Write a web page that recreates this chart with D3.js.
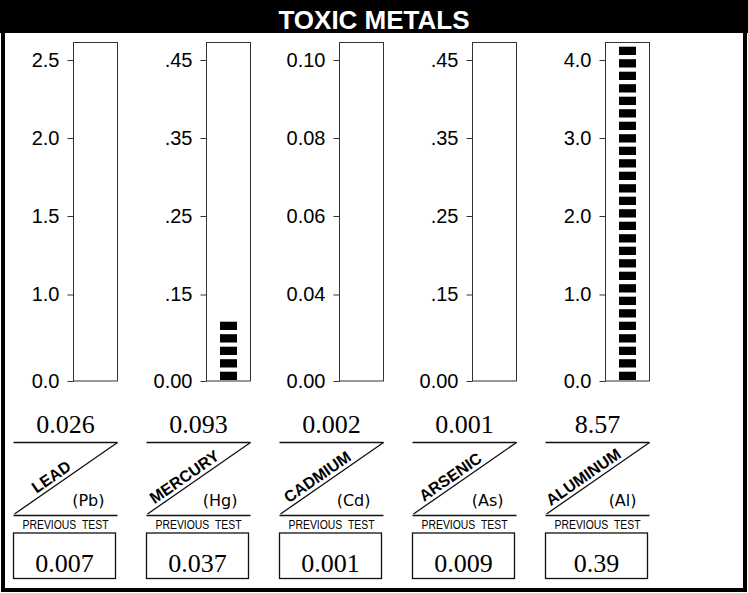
<!DOCTYPE html>
<html><head><meta charset="utf-8">
<script src="https://cdn.jsdelivr.net/npm/d3@7"></script>
<style>
html,body{margin:0;padding:0;background:#fff;}
svg{display:block;}
</style></head>
<body>
<svg id="c" width="748" height="593"></svg>
<script>
const title = "TOXIC METALS";
const metals = ["LEAD", "MERCURY", "CADMIUM", "ARSENIC", "ALUMINUM"];
const symbols = ["(Pb)", "(Hg)", "(Cd)", "(As)", "(Al)"];
const currentValues = [0.026, 0.093, 0.002, 0.001, 8.57];
const currentLabels = ["0.026", "0.093", "0.002", "0.001", "8.57"];
const previousValues = [0.007, 0.037, 0.001, 0.009, 0.39];
const previousLabels = ["0.007", "0.037", "0.001", "0.009", "0.39"];
const tickValues = [
  [0, 1.0, 1.5, 2.0, 2.5],
  [0, 0.15, 0.25, 0.35, 0.45],
  [0, 0.04, 0.06, 0.08, 0.10],
  [0, 0.15, 0.25, 0.35, 0.45],
  [0, 1.0, 2.0, 3.0, 4.0]
];
const tickLabels = [
  ["0.0", "1.0", "1.5", "2.0", "2.5"],
  ["0.00", ".15", ".25", ".35", ".45"],
  ["0.00", "0.04", "0.06", "0.08", "0.10"],
  ["0.00", ".15", ".25", ".35", ".45"],
  ["0.0", "1.0", "2.0", "3.0", "4.0"]
];
const previousCaption = "PREVIOUS  TEST";

const svg = d3.select("#c");
const W = 748, H = 593;

// frame + title bar
svg.append("rect").attr("x", 0).attr("y", 0).attr("width", W).attr("height", 33).attr("fill", "#000");
svg.append("rect").attr("x", 3).attr("y", 2).attr("width", 742).attr("height", 588)
  .attr("fill", "none").attr("stroke", "#000").attr("stroke-width", 4);
svg.append("text").attr("x", W / 2).attr("y", 29).attr("text-anchor", "middle")
  .attr("fill", "#fff").attr("font-family", "'Liberation Sans', Arial, sans-serif")
  .attr("font-weight", "bold").attr("font-size", 26).text(title);

const xLeft = d3.scalePoint().domain(metals).range([73, 605]);
const barW = 45;
const barTop = 42, barBottom = 381;
const tickPos = [381, 294.5, 216, 138, 60];
const pitch = 12.5, blockH = 8.3, blockW = 17;

metals.forEach((m, i) => {
  const x0 = xLeft(m);
  const g = svg.append("g");
  const y = d3.scaleLinear().domain(tickValues[i]).range(tickPos);

  // bar outline
  g.append("rect").attr("x", x0 + 0.5).attr("y", barTop + 0.5).attr("width", barW - 1)
    .attr("height", barBottom - barTop - 0.5).attr("fill", "#fff").attr("stroke", "#333").attr("stroke-width", 1);

  // axis
  const ax = g.append("g").attr("transform", `translate(${x0 + 0.5},0)`)
    .call(d3.axisLeft(y).tickValues(tickValues[i]).tickFormat((d, j) => tickLabels[i][j])
      .tickSize(6).tickPadding(8).tickSizeOuter(0));
  ax.select(".domain").remove();
  ax.selectAll("line").attr("stroke", "#333");
  ax.selectAll("text").attr("font-family", "'Liberation Sans', Arial, sans-serif")
    .attr("font-size", 20).attr("fill", "#000");

  // blocks
  const vy = Math.max(y(currentValues[i]), barTop);
  const h = barBottom - vy;
  const maxBlocks = Math.floor((barBottom - barTop) / pitch);
  const n = h < pitch / 2 ? 0 : Math.min(Math.ceil(h / pitch), maxBlocks);
  const blocks = d3.range(n);
  g.selectAll("rect.blk").data(blocks).join("rect").attr("class", "blk")
    .attr("x", x0 + (barW - blockW) / 2)
    .attr("y", k => barBottom - 1 - blockH - k * pitch)
    .attr("width", blockW).attr("height", blockH).attr("fill", "#000");

  // lower section
  const right = x0 + barW - 0.5;
  const left = right - 104;
  const cx = (left + right) / 2;
  g.append("text").attr("x", cx).attr("y", 433).attr("text-anchor", "middle")
    .attr("font-family", "'Liberation Serif', 'Times New Roman', serif").attr("font-size", 26)
    .attr("fill", "#000").text(currentLabels[i]);

  const topY = 442.5, diagY = 514, botY = 515.5;
  const ln = (x1, y1, x2, y2, w) => g.append("line").attr("x1", x1).attr("y1", y1).attr("x2", x2).attr("y2", y2)
    .attr("stroke", "#111").attr("stroke-width", w || 1.3);
  ln(left, topY, right, topY);
  ln(left + 1, diagY, right, topY);
  ln(left, botY, right, botY);

  const ang = Math.atan2(topY - diagY, right - left - 1) * 180 / Math.PI;
  const t = 0.41;
  const px = left + 1 + t * (right - left - 1);
  const py = diagY + t * (topY - diagY);
  g.append("text").attr("transform", `translate(${px},${py}) rotate(${ang}) translate(0,-4)`)
    .attr("text-anchor", "middle").attr("font-family", "'Liberation Sans', Arial, sans-serif")
    .attr("font-weight", "bold").attr("font-size", 16).attr("fill", "#000").text(m);

  g.append("text").attr("x", right - 13).attr("y", 506).attr("text-anchor", "end")
    .attr("font-family", "'DejaVu Sans', sans-serif").attr("font-size", 16).attr("fill", "#000").text(symbols[i]);

  g.append("text").attr("x", cx).attr("y", 529).attr("text-anchor", "middle")
    .attr("font-family", "'Liberation Sans', Arial, sans-serif").attr("font-size", 12)
    .attr("textLength", 86).attr("lengthAdjust", "spacingAndGlyphs")
    .style("white-space", "pre").attr("fill", "#000").text(previousCaption);

  g.append("rect").attr("x", left).attr("y", 533).attr("width", right - left - 2).attr("height", 45.5)
    .attr("fill", "none").attr("stroke", "#111").attr("stroke-width", 1.3);
  g.append("text").attr("x", (left + right - 2) / 2).attr("y", 572).attr("text-anchor", "middle")
    .attr("font-family", "'Liberation Serif', 'Times New Roman', serif").attr("font-size", 26)
    .attr("fill", "#000").attr("data-value", previousValues[i]).text(previousLabels[i]);
});
</script>
</body></html>
